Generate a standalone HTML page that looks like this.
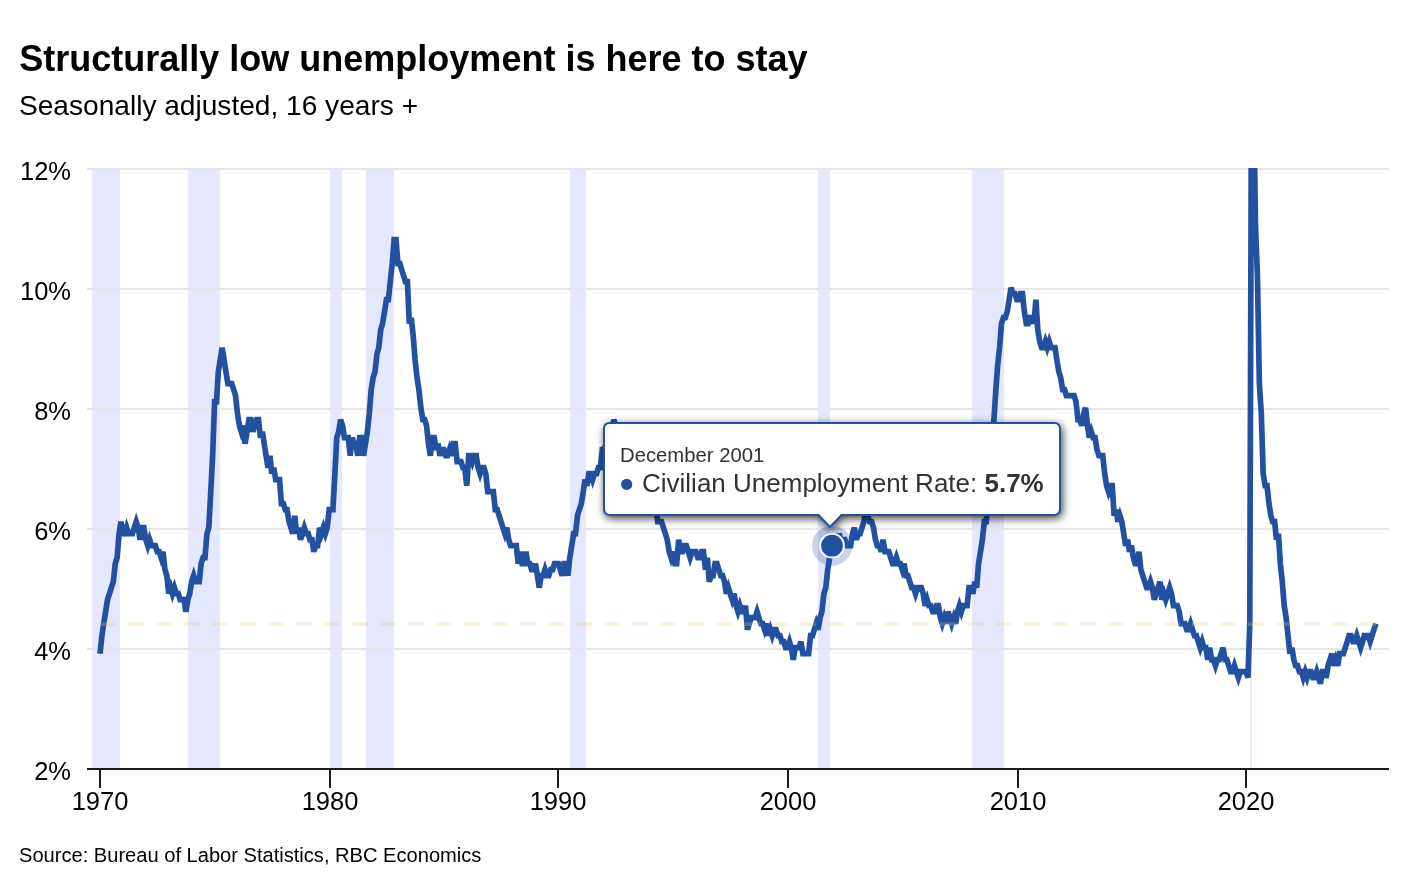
<!DOCTYPE html>
<html><head><meta charset="utf-8">
<style>
html,body{margin:0;padding:0;background:#fff;width:1427px;height:872px;overflow:hidden}
svg{display:block;font-family:"Liberation Sans",sans-serif;will-change:transform}
</style></head><body>
<svg width="1427" height="872" viewBox="0 0 1427 872">
<defs>
<clipPath id="plot"><rect x="87" y="168" width="1302" height="601"/></clipPath>
<filter id="shadow" x="-10%" y="-30%" width="120%" height="160%">
<feDropShadow dx="1.5" dy="2.5" stdDeviation="4" flood-color="#000" flood-opacity="0.75"/>
</filter>
</defs>
<rect width="1427" height="872" fill="#fff"/>
<text x="19.3" y="71" font-size="36" font-weight="bold" fill="#000">Structurally low unemployment is here to stay</text>
<text x="19" y="115" font-size="28.1" fill="#000">Seasonally adjusted, 16 years +</text>
<rect x="92" y="170" width="28" height="598" fill="#e5e8fc"/><rect x="188" y="170" width="32" height="598" fill="#e5e8fc"/><rect x="330" y="170" width="12" height="598" fill="#e5e8fc"/><rect x="366" y="170" width="28" height="598" fill="#e5e8fc"/><rect x="570" y="170" width="16" height="598" fill="#e5e8fc"/><rect x="818" y="170" width="12" height="598" fill="#e5e8fc"/><rect x="972" y="170" width="32" height="598" fill="#e5e8fc"/><rect x="1250" y="170" width="2" height="598" fill="#e5e8fc"/>
<rect x="87" y="648" width="1302" height="2" fill="#e6e6e6"/><rect x="87" y="528" width="1302" height="2" fill="#e6e6e6"/><rect x="87" y="408" width="1302" height="2" fill="#e6e6e6"/><rect x="87" y="288" width="1302" height="2" fill="#e6e6e6"/><rect x="87" y="168" width="1302" height="2" fill="#e6e6e6"/>
<g clip-path="url(#plot)">
<path d="M100.00 653.70 L101.95 635.70 L103.70 623.70 L105.65 611.70 L107.53 599.70 L109.48 593.70 L111.36 587.70 L113.30 581.70 L115.25 563.70 L117.13 557.70 L119.08 533.70 L120.96 521.70 L122.90 533.70 L124.85 533.70 L126.61 527.70 L128.55 533.70 L130.44 533.70 L132.38 533.70 L134.26 527.70 L136.21 521.70 L138.15 527.70 L140.04 539.70 L141.98 527.70 L143.86 527.70 L145.81 539.70 L147.76 545.70 L149.58 539.70 L151.52 545.70 L153.40 545.70 L155.35 545.70 L157.23 551.70 L159.18 551.70 L161.12 557.70 L163.00 551.70 L164.95 569.70 L166.83 575.70 L168.78 593.70 L170.72 587.70 L172.48 593.70 L174.43 587.70 L176.31 593.70 L178.25 593.70 L180.14 599.70 L182.08 599.70 L184.03 599.70 L185.91 611.70 L187.85 599.70 L189.74 593.70 L191.68 581.70 L193.63 575.70 L195.38 581.70 L197.33 581.70 L199.21 581.70 L201.16 563.70 L203.04 557.70 L204.99 557.70 L206.93 533.70 L208.81 527.70 L210.76 491.70 L212.64 455.70 L214.59 401.70 L216.53 401.70 L218.29 371.70 L220.24 359.70 L222.12 347.70 L224.06 359.70 L225.95 371.70 L227.89 383.70 L229.84 383.70 L231.72 383.70 L233.66 389.70 L235.55 395.70 L237.49 413.70 L239.44 425.70 L241.26 431.70 L243.20 425.70 L245.09 443.70 L247.03 431.70 L248.91 419.70 L250.86 419.70 L252.80 431.70 L254.69 425.70 L256.63 419.70 L258.51 419.70 L260.46 437.70 L262.41 431.70 L264.16 443.70 L266.11 455.70 L267.99 467.70 L269.94 455.70 L271.82 473.70 L273.76 467.70 L275.71 479.70 L277.59 479.70 L279.54 479.70 L281.42 503.70 L283.37 503.70 L285.31 509.70 L287.07 509.70 L289.01 521.70 L290.90 527.70 L292.84 533.70 L294.72 515.70 L296.67 533.70 L298.61 527.70 L300.50 539.70 L302.44 533.70 L304.32 527.70 L306.27 533.70 L308.22 533.70 L309.97 539.70 L311.92 539.70 L313.80 551.70 L315.75 545.70 L317.63 545.70 L319.57 527.70 L321.52 533.70 L323.40 527.70 L325.35 533.70 L327.23 527.70 L329.17 509.70 L331.12 509.70 L332.94 509.70 L334.89 473.70 L336.77 437.70 L338.71 431.70 L340.60 419.70 L342.54 425.70 L344.49 437.70 L346.37 437.70 L348.31 437.70 L350.20 455.70 L352.14 437.70 L354.09 443.70 L355.85 443.70 L357.79 455.70 L359.67 437.70 L361.62 437.70 L363.50 455.70 L365.45 443.70 L367.39 431.70 L369.27 413.70 L371.22 389.70 L373.10 377.70 L375.05 371.70 L376.99 353.70 L378.75 347.70 L380.70 329.70 L382.58 323.70 L384.52 311.70 L386.41 299.70 L388.35 299.70 L390.30 281.70 L392.18 263.70 L394.12 239.70 L396.01 239.70 L397.95 263.70 L399.90 263.70 L401.65 269.70 L403.60 275.70 L405.48 281.70 L407.43 281.70 L409.31 323.70 L411.26 317.70 L413.20 335.70 L415.08 359.70 L417.03 377.70 L418.91 389.70 L420.86 407.70 L422.80 419.70 L424.62 419.70 L426.57 425.70 L428.45 443.70 L430.40 455.70 L432.28 437.70 L434.22 437.70 L436.17 449.70 L438.05 443.70 L440.00 455.70 L441.88 449.70 L443.83 449.70 L445.77 455.70 L447.53 455.70 L449.47 449.70 L451.36 455.70 L453.30 443.70 L455.18 443.70 L457.13 461.70 L459.07 461.70 L460.96 461.70 L462.90 467.70 L464.78 467.70 L466.73 485.70 L468.68 455.70 L470.43 455.70 L472.38 461.70 L474.26 455.70 L476.21 455.70 L478.09 467.70 L480.03 473.70 L481.98 467.70 L483.86 467.70 L485.81 473.70 L487.69 491.70 L489.63 491.70 L491.58 491.70 L493.34 491.70 L495.28 509.70 L497.17 509.70 L499.11 515.70 L500.99 521.70 L502.94 527.70 L504.88 533.70 L506.77 527.70 L508.71 539.70 L510.59 545.70 L512.54 545.70 L514.49 545.70 L516.31 545.70 L518.25 563.70 L520.13 551.70 L522.08 563.70 L523.96 563.70 L525.91 551.70 L527.85 563.70 L529.73 563.70 L531.68 569.70 L533.56 569.70 L535.51 563.70 L537.45 575.70 L539.21 587.70 L541.16 575.70 L543.04 575.70 L544.98 569.70 L546.87 575.70 L548.81 575.70 L550.76 569.70 L552.64 569.70 L554.58 563.70 L556.47 563.70 L558.41 563.70 L560.36 569.70 L562.11 575.70 L564.06 563.70 L565.94 563.70 L567.89 575.70 L569.77 557.70 L571.72 545.70 L573.66 533.70 L575.54 533.70 L577.49 515.70 L579.37 509.70 L581.32 503.70 L583.26 491.70 L585.02 479.70 L586.97 485.70 L588.85 473.70 L590.79 473.70 L592.68 479.70 L594.62 473.70 L596.57 473.70 L598.45 467.70 L600.39 467.70 L602.28 449.70 L604.22 449.70 L606.17 443.70 L607.99 443.70 L609.93 443.70 L611.82 431.70 L613.76 419.70 L615.64 425.70 L617.59 431.70 L619.53 431.70 L621.42 449.70 L623.36 443.70 L625.24 443.70 L627.19 449.70 L629.14 461.70 L630.89 467.70 L632.84 461.70 L634.72 461.70 L636.67 467.70 L638.55 473.70 L640.49 479.70 L642.44 485.70 L644.32 479.70 L646.27 491.70 L648.15 497.70 L650.10 491.70 L652.04 491.70 L653.80 497.70 L655.74 503.70 L657.63 521.70 L659.57 521.70 L661.45 521.70 L663.40 527.70 L665.34 533.70 L667.23 539.70 L669.17 551.70 L671.05 557.70 L673.00 551.70 L674.95 563.70 L676.70 563.70 L678.65 539.70 L680.53 551.70 L682.48 551.70 L684.36 545.70 L686.30 545.70 L688.25 551.70 L690.13 557.70 L692.08 551.70 L693.96 551.70 L695.90 551.70 L697.85 557.70 L699.67 557.70 L701.62 551.70 L703.50 551.70 L705.44 569.70 L707.33 557.70 L709.27 581.70 L711.22 575.70 L713.10 575.70 L715.04 563.70 L716.93 563.70 L718.87 569.70 L720.82 575.70 L722.58 575.70 L724.52 581.70 L726.40 593.70 L728.35 587.70 L730.23 593.70 L732.18 599.70 L734.12 593.70 L736.00 605.70 L737.95 611.70 L739.83 605.70 L741.78 611.70 L743.72 611.70 L745.48 605.70 L747.43 629.70 L749.31 623.70 L751.25 617.70 L753.14 617.70 L755.08 617.70 L757.03 611.70 L758.91 617.70 L760.85 623.70 L762.74 623.70 L764.68 629.70 L766.63 623.70 L768.38 635.70 L770.33 629.70 L772.21 635.70 L774.16 629.70 L776.04 629.70 L777.99 635.70 L779.93 635.70 L781.81 641.70 L783.76 641.70 L785.64 647.70 L787.59 647.70 L789.53 641.70 L791.35 647.70 L793.30 659.70 L795.18 647.70 L797.13 647.70 L799.01 647.70 L800.95 641.70 L802.90 653.70 L804.78 653.70 L806.73 653.70 L808.61 653.70 L810.56 635.70 L812.50 635.70 L814.26 629.70 L816.20 623.70 L818.09 629.70 L820.03 617.70 L821.91 611.70 L823.86 593.70 L825.80 587.70 L827.69 569.70 L829.63 557.70 L831.51 545.70 L833.46 545.70 L835.41 545.70 L837.16 545.70 L839.11 533.70 L840.99 539.70 L842.94 539.70 L844.82 539.70 L846.76 545.70 L848.71 545.70 L850.59 545.70 L852.54 533.70 L854.42 527.70 L856.37 539.70 L858.31 533.70 L860.07 533.70 L862.01 527.70 L863.90 521.70 L865.84 509.70 L867.72 515.70 L869.67 521.70 L871.61 521.70 L873.50 527.70 L875.44 539.70 L877.32 545.70 L879.27 545.70 L881.22 551.70 L883.04 539.70 L884.98 551.70 L886.86 551.70 L888.81 551.70 L890.69 557.70 L892.64 563.70 L894.58 563.70 L896.46 557.70 L898.41 563.70 L900.29 563.70 L902.24 569.70 L904.18 563.70 L905.94 575.70 L907.89 575.70 L909.77 581.70 L911.71 587.70 L913.60 587.70 L915.54 593.70 L917.49 587.70 L919.37 587.70 L921.31 587.70 L923.20 593.70 L925.14 605.70 L927.09 599.70 L928.85 605.70 L930.79 605.70 L932.67 611.70 L934.62 611.70 L936.50 605.70 L938.45 605.70 L940.39 617.70 L942.27 623.70 L944.22 617.70 L946.10 623.70 L948.05 611.70 L949.99 617.70 L951.75 623.70 L953.70 617.70 L955.58 623.70 L957.52 611.70 L959.41 605.70 L961.35 611.70 L963.30 605.70 L965.18 605.70 L967.12 605.70 L969.01 587.70 L970.95 587.70 L972.90 593.70 L974.72 581.70 L976.66 587.70 L978.55 563.70 L980.49 551.70 L982.37 539.70 L984.32 521.70 L986.26 521.70 L988.15 497.70 L990.09 479.70 L991.97 449.70 L993.92 419.70 L995.87 389.70 L997.62 365.70 L999.57 347.70 L1001.45 323.70 L1003.40 317.70 L1005.28 317.70 L1007.22 311.70 L1009.17 299.70 L1011.05 287.70 L1013.00 293.70 L1014.88 293.70 L1016.83 299.70 L1018.77 299.70 L1020.53 293.70 L1022.47 293.70 L1024.36 311.70 L1026.30 323.70 L1028.18 323.70 L1030.13 317.70 L1032.07 317.70 L1033.96 323.70 L1035.90 299.70 L1037.78 329.70 L1039.73 341.70 L1041.68 347.70 L1043.43 347.70 L1045.38 341.70 L1047.26 347.70 L1049.21 341.70 L1051.09 347.70 L1053.03 347.70 L1054.98 347.70 L1056.86 359.70 L1058.81 371.70 L1060.69 377.70 L1062.63 389.70 L1064.58 389.70 L1066.40 395.70 L1068.35 395.70 L1070.23 395.70 L1072.17 395.70 L1074.06 395.70 L1076.00 401.70 L1077.95 419.70 L1079.83 419.70 L1081.77 425.70 L1083.66 413.70 L1085.60 407.70 L1087.55 425.70 L1089.31 437.70 L1091.25 431.70 L1093.13 437.70 L1095.08 437.70 L1096.96 449.70 L1098.91 455.70 L1100.85 455.70 L1102.73 455.70 L1104.68 473.70 L1106.56 485.70 L1108.51 491.70 L1110.45 485.70 L1112.21 485.70 L1114.16 515.70 L1116.04 509.70 L1117.98 521.70 L1119.87 515.70 L1121.81 521.70 L1123.76 533.70 L1125.64 545.70 L1127.58 539.70 L1129.47 551.70 L1131.41 545.70 L1133.36 557.70 L1135.11 563.70 L1137.06 563.70 L1138.94 551.70 L1140.89 569.70 L1142.77 575.70 L1144.72 581.70 L1146.66 587.70 L1148.54 587.70 L1150.49 581.70 L1152.37 587.70 L1154.32 599.70 L1156.26 593.70 L1158.08 587.70 L1160.03 581.70 L1161.91 599.70 L1163.86 593.70 L1165.74 599.70 L1167.68 593.70 L1169.63 587.70 L1171.51 593.70 L1173.46 605.70 L1175.34 605.70 L1177.29 605.70 L1179.23 611.70 L1180.99 623.70 L1182.93 623.70 L1184.82 623.70 L1186.76 629.70 L1188.64 629.70 L1190.59 623.70 L1192.53 629.70 L1194.42 635.70 L1196.36 635.70 L1198.24 641.70 L1200.19 647.70 L1202.14 641.70 L1203.89 647.70 L1205.84 647.70 L1207.72 659.70 L1209.67 647.70 L1211.55 659.70 L1213.49 659.70 L1215.44 665.70 L1217.32 659.70 L1219.27 659.70 L1221.15 653.70 L1223.10 647.70 L1225.04 659.70 L1226.80 659.70 L1228.74 665.70 L1230.63 671.70 L1232.57 671.70 L1234.45 665.70 L1236.40 671.70 L1238.34 677.70 L1240.23 671.70 L1242.17 671.70 L1244.05 671.70 L1246.00 671.70 L1247.95 677.70 L1249.77 623.70 L1251.71 -0.30 L1253.59 95.70 L1255.54 227.70 L1257.42 275.70 L1259.37 383.70 L1261.31 413.70 L1263.19 473.70 L1265.14 485.70 L1267.02 485.70 L1268.97 503.70 L1270.91 515.70 L1272.67 521.70 L1274.62 521.70 L1276.50 539.70 L1278.44 533.70 L1280.33 563.70 L1282.27 581.70 L1284.22 605.70 L1286.10 617.70 L1288.04 635.70 L1289.93 653.70 L1291.87 647.70 L1293.82 659.70 L1295.58 665.70 L1297.52 665.70 L1299.40 671.70 L1301.35 671.70 L1303.23 677.70 L1305.18 671.70 L1307.12 677.70 L1309.00 671.70 L1310.95 671.70 L1312.83 677.70 L1314.78 677.70 L1316.72 671.70 L1318.48 677.70 L1320.43 683.70 L1322.31 671.70 L1324.25 671.70 L1326.14 677.70 L1328.08 665.70 L1330.03 659.70 L1331.91 653.70 L1333.85 665.70 L1335.74 659.70 L1337.68 665.70 L1339.63 653.70 L1341.45 653.70 L1343.39 653.70 L1345.28 647.70 L1347.22 641.70 L1349.10 635.70 L1351.05 635.70 L1352.99 641.70 L1354.88 641.70 L1356.82 635.70 L1358.70 641.70 L1360.65 647.70 L1362.60 641.70 L1364.35 635.70 L1366.30 635.70 L1368.18 635.70 L1370.13 641.70 L1372.01 635.70 L1373.95 629.70 L1375.90 623.70" fill="none" stroke="#2251a2" stroke-width="5.7" stroke-linejoin="miter" stroke-linecap="butt"/>
<path d="M100.00 624.10 L1375.90 624.10" fill="none" stroke="rgb(240,200,110)" stroke-opacity="0.25" stroke-width="3.8" stroke-dasharray="16,12"/>
</g>
<rect x="87" y="768" width="1302" height="2" fill="#1c1c1c"/>
<rect x="99" y="769" width="2" height="19" fill="#1c1c1c"/><rect x="329" y="769" width="2" height="19" fill="#1c1c1c"/><rect x="557" y="769" width="2" height="19" fill="#1c1c1c"/><rect x="787" y="769" width="2" height="19" fill="#1c1c1c"/><rect x="1017" y="769" width="2" height="19" fill="#1c1c1c"/><rect x="1245" y="769" width="2" height="19" fill="#1c1c1c"/>
<g font-size="25.5" fill="#000"><text x="100" y="810" text-anchor="middle">1970</text><text x="330" y="810" text-anchor="middle">1980</text><text x="558" y="810" text-anchor="middle">1990</text><text x="788" y="810" text-anchor="middle">2000</text><text x="1018" y="810" text-anchor="middle">2010</text><text x="1246" y="810" text-anchor="middle">2020</text><text x="71" y="780" text-anchor="end">2%</text><text x="71" y="660" text-anchor="end">4%</text><text x="71" y="540" text-anchor="end">6%</text><text x="71" y="420" text-anchor="end">8%</text><text x="71" y="300" text-anchor="end">10%</text><text x="71" y="180" text-anchor="end">12%</text></g>
<text x="19" y="862" font-size="20.1" fill="#000">Source: Bureau of Labor Statistics, RBC Economics</text>
<circle cx="832.01" cy="545.70" r="20" fill="#2251a2" fill-opacity="0.25"/>
<circle cx="832.01" cy="545.70" r="11.9" fill="#2251a2" stroke="#fff" stroke-width="2"/>
<g filter="url(#shadow)">
<path d="M610 423 H1054 Q1060 423 1060 429 V509 Q1060 515 1054 515 H841.5 L830 527 L818.5 515 H610 Q604 515 604 509 V429 Q604 423 610 423 Z" fill="#fff" stroke="#2251a2" stroke-width="2"/>
</g>
<text x="620" y="462" font-size="20.3" fill="#333">December 2001</text>
<circle cx="626.7" cy="484.4" r="5.6" fill="#2251a2"/>
<text x="642" y="492" font-size="26" fill="#333">Civilian Unemployment Rate: <tspan font-weight="bold">5.7%</tspan></text>
</svg>
</body></html>
